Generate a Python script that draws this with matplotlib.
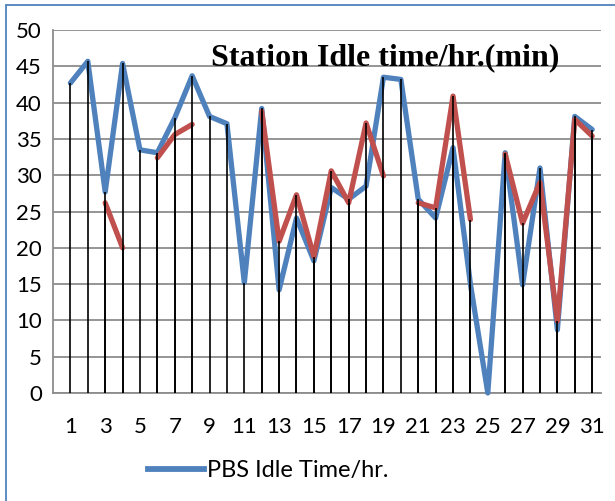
import numpy as np
import matplotlib.pyplot as plt
from matplotlib.patches import Rectangle
from matplotlib.lines import Line2D

days = np.arange(1, 32)
nan = np.nan

# PBS idle time per hour (blue) and second series (red, with gaps)
pbs_idle = [42.7, 45.7, 27.7, 45.4, 33.5, 33.1, 37.9, 43.7, 38.1, 37.1,
            15.2, 39.2, 14.2, 24.1, 18.2, 28.3, 26.7, 28.5, 43.5, 43.2,
            26.7, 24.1, 33.8, 15.0, 0.0, 33.1, 14.9, 31.0, 8.7, 38.1, 36.3]
other_idle = [nan, nan, 26.2, 20.0, nan, 32.4, 35.6, 37.0, nan, nan,
              nan, 38.8, 20.9, 27.3, 18.8, 30.6, 26.2, 37.2, 29.9, nan,
              26.2, 25.5, 40.9, 23.9, nan, 32.9, 23.4, 29.0, 9.9, 37.7, 35.4]
y_ticks = [0, 5, 10, 15, 20, 25, 30, 35, 40, 45, 50]
x_ticks = list(range(1, 32, 2))

plt.rcParams['font.family'] = ['Lato', 'DejaVu Sans']

fig = plt.figure(figsize=(6.15, 5.01), dpi=100)
ax = fig.add_axes([0.0862, 0.2156, 0.8908, 0.7244])

blue = np.array(pbs_idle)
red = np.array(other_idle)

ax.plot(days, blue, color='#4f81bd', lw=3.8, zorder=3, clip_on=False,
        solid_joinstyle='round', solid_capstyle='round')
ax.plot(days, red, color='#c0504d', lw=3.8, zorder=4, clip_on=False,
        solid_joinstyle='round', solid_capstyle='round')

# drop lines for both series
ax.vlines(days, 0, blue, color='black', lw=1.2, zorder=5)
ok = ~np.isnan(red)
ax.vlines(days[ok], 0, red[ok], color='black', lw=1.2, zorder=5)

ax.set_xlim(0, 31.5)
ax.set_ylim(0, 50)
ax.set_yticks(y_ticks)
ax.set_xticks(x_ticks)
ax.tick_params(axis='both', length=0, labelsize=16)
ax.tick_params(axis='x', pad=17)
ax.tick_params(axis='y', pad=8)
ax.yaxis.grid(True, color='#8c8c8c', lw=1.3)
ax.set_axisbelow(True)
for s in ['top', 'right']:
    ax.spines[s].set_visible(False)
ax.spines['left'].set_color('#8c8c8c')
ax.spines['bottom'].set_color('#8c8c8c')
ax.spines['left'].set_linewidth(1.3)
ax.spines['bottom'].set_linewidth(1.3)

ax.text(0.606, 0.924, 'Station Idle time/hr.(min)', transform=ax.transAxes,
        ha='center', va='center', fontsize=23, fontweight='bold',
        family='Liberation Serif', zorder=6)

handle = Line2D([], [], color='#4f81bd', lw=4.2)
fig.legend([handle], ['PBS Idle Time/hr.'], loc='center left',
           bbox_to_anchor=(0.225, 0.060), frameon=False, fontsize=17,
           handlelength=2.4, handletextpad=0.1, borderaxespad=0)

fig.patches.append(Rectangle((6 / 615, -0.1), 1.2, 1 - 5 / 501 + 0.1,
                             transform=fig.transFigure, fill=False,
                             edgecolor='#4f81bd', lw=1.3))

fig.savefig('out.png', dpi=100)
